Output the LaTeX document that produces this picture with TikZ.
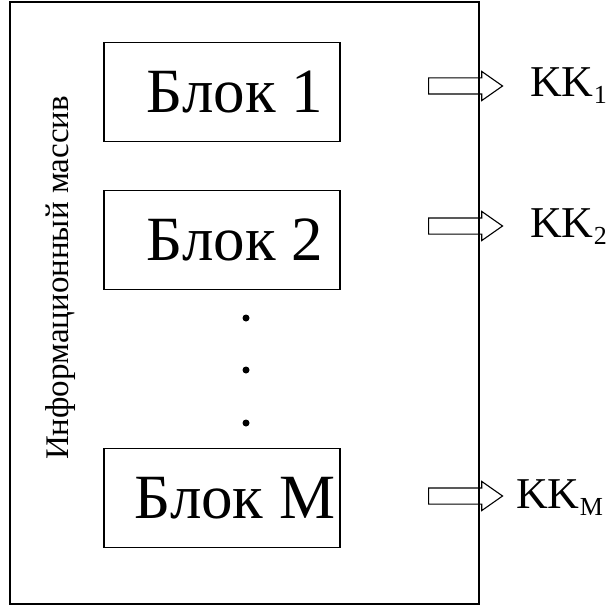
\documentclass[tikz,border=0pt]{standalone}
\usepackage{fontspec}
\setmainfont{Liberation Serif}
\usetikzlibrary{shapes.arrows}
\begin{document}
\begin{tikzpicture}[x=1pt,y=-1pt,
  blok/.style={draw,line width=1.2pt,minimum width=236pt,minimum height=99pt,inner sep=0pt},
  bloktext/.style={font=\fontsize{63}{65}\selectfont,inner sep=0pt,xshift=13pt},
  outarrow/.style={single arrow,draw,line width=1.1pt,anchor=tail,minimum height=74pt,minimum width=0pt,
    text height=7.5pt,text depth=7.5pt,text width=0pt,inner sep=0pt,single arrow head extend=6.5pt,single arrow tip angle=70},
  kk/.style={anchor=base west,font=\fontsize{44}{46}\selectfont,inner sep=0pt},
  dotn/.style={circle,fill,inner sep=0pt,minimum size=7pt}]
\newcommand\kksub[1]{\raisebox{-7pt}{\fontsize{26}{28}\selectfont #1}}
\useasboundingbox (0,0) rectangle (611,615);
\node[draw,line width=1.2pt,minimum width=469pt,minimum height=602pt,inner sep=0pt] (mass) at (244.5,303) {};
\node[rotate=90,font=\fontsize{33}{35}\selectfont,inner sep=0pt] (lbl) at (61,278) {Информационный массив};
\node[blok] (b1) at (222,92) {};
\node[blok] (b2) at (222,240) {};
\node[blok] (bm) at (222,498) {};
\node[bloktext] (t1) at (b1.center) {Блок 1};
\node[bloktext] (t2) at (b2.center) {Блок 2};
\node[bloktext] (tm) at (bm.center) {Блок M};
\node[dotn] (d1) at (246,318) {};
\node[dotn] (d2) at (246,370) {};
\node[dotn] (d3) at (246,423) {};
\node[outarrow] (a1) at (428,86) {};
\node[outarrow] (a2) at (428,226) {};
\node[outarrow] (am) at (428,496) {};
\node[kk] (k1) at (530,97) {KK\kksub{1}};
\node[kk] (k2) at (530,237) {KK\kksub{2}};
\node[kk] (km) at (516,508) {KK\kksub{M}};
\end{tikzpicture}
\end{document}
